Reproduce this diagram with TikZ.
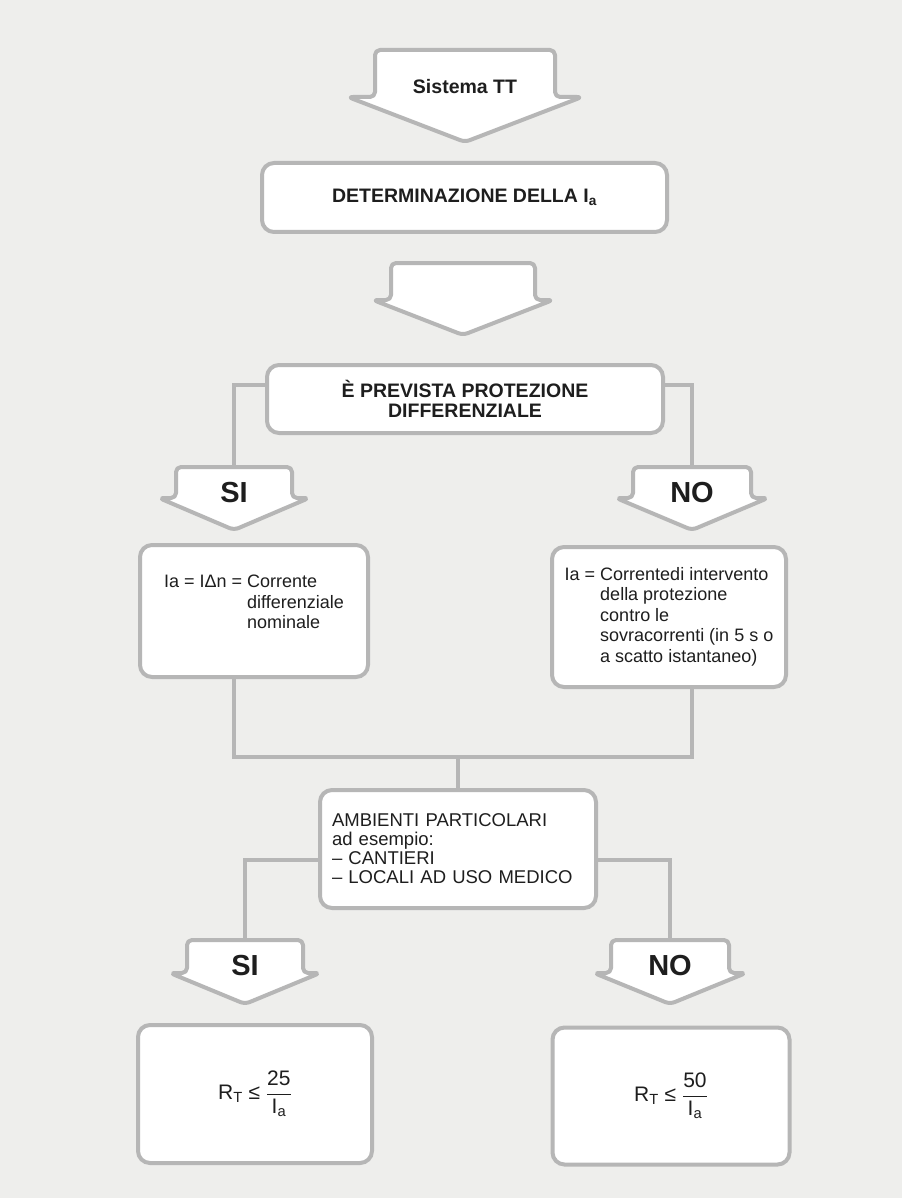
\documentclass[tikz,border=0pt]{standalone}
\usepackage{fontspec}
\setmainfont{Liberation Sans}
\usepackage{amsmath}
\usetikzlibrary{calc}

\definecolor{paper}{RGB}{238,238,236}
\definecolor{frame}{RGB}{182,182,182}
\definecolor{ink}{RGB}{30,30,30}

\pgfdeclarelayer{bg}
\pgfsetlayers{bg,main}

\newcommand{\headsize}{\fontsize{19.5}{22}\selectfont}
\newcommand{\bodysize}{\fontsize{18}{20.5}\selectfont}
\newcommand{\listsize}{\fontsize{18.5}{19}\selectfont}
\newcommand{\resultsize}{\fontsize{21}{24}\selectfont}
\newcommand{\answersize}{\fontsize{29}{30}\selectfont}

% downward block arrow: name, x, top, half width, box height, flange, tip depth, text
\newcommand{\flowarrow}[8]{%
  \draw[arrowline] ({#2-#4-#6},{#3+#5}) -- ({#2-#4},{#3+#5}) -- ({#2-#4},#3)
    -- ({#2+#4},#3) -- ({#2+#4},{#3+#5}) -- ({#2+#4+#6},{#3+#5})
    -- (#2,{#3+#5+#7}) -- cycle;
  \coordinate (#1-top) at (#2,#3);
  \node[arrowtext] (#1) at (#2,{#3+0.4*(#5+#7)}) {#8};
}

\begin{document}
\begin{tikzpicture}[x=1pt, y=-1pt,
    stepbox/.style={draw=frame, line width=4pt, fill=white, rounded corners=12pt,
                    text=ink, inner sep=0pt},
    arrowline/.style={draw=frame, line width=4pt, fill=white, rounded corners=5pt,
                      line join=round},
    arrowtext/.style={text=ink, inner sep=0pt},
    link/.style={draw=frame, line width=4.5pt}]
        \useasboundingbox (0,0) rectangle (902,1198);
        \begin{pgfonlayer}{bg}
            \fill[paper] (0,0) rectangle (902,1198);
        \end{pgfonlayer}

        % Start and first step
        \flowarrow{sys}{465}{50}{90}{47}{27}{45}{\headsize\bfseries Sistema TT}
        \node[stepbox, minimum width=405, minimum height=69, font=\headsize\bfseries]
            (det) at (464.5,197.5) {DETERMINAZIONE DELLA I\textsubscript{a}};
        \flowarrow{gap}{463}{263}{72}{37}{18}{35}{}

        % Question on the residual current device
        \node[stepbox, minimum width=396, minimum height=68, font=\headsize\bfseries,
              align=center] (prev) at (465,399) {È PREVISTA PROTEZIONE\\[-2pt]DIFFERENZIALE};
        \flowarrow{si1}{234}{467}{58}{31}{17}{32}{\answersize\bfseries SI}
        \flowarrow{no1}{692}{467}{59}{31}{17}{32}{\answersize\bfseries NO}

        % Value of Ia for both answers
        \node[stepbox, minimum width=228, minimum height=132, font=\bodysize]
            (corrL) at (254,611) {\begin{tabular}[b]{@{}l@{\ }l@{}}
                Ia = IΔn = & Corrente\\ & differenziale\\ & nominale\\[14pt]\end{tabular}};
        \node[stepbox, minimum width=234, minimum height=140, font=\bodysize]
            (corrR) at (669,617) {\begin{tabular}{@{}l@{\ }l@{}}
                Ia = & Correntedi intervento\\ & della protezione\\ & contro le\\
                & sovracorrenti (in 5 s o\\ & a scatto istantaneo)\end{tabular}};

        % Special locations
        \node[stepbox, minimum width=276, minimum height=118, font=\listsize, align=left,
              text width=252] (amb) at (458,849)
            {AMBIENTI PARTICOLARI\\ad esempio:\\– CANTIERI\\– LOCALI AD USO MEDICO};
        \flowarrow{si2}{245}{940}{58}{33}{17}{31}{\answersize\bfseries SI}
        \flowarrow{no2}{670}{940}{59}{33}{17}{31}{\answersize\bfseries NO}

        % Earth resistance limits
        \node[stepbox, minimum width=234, minimum height=138, font=\resultsize]
            (resL) at (255,1094) {R\textsubscript{T} ≤ $\dfrac{\text{25}}{\text{I\textsubscript{a}}}$};
        \node[stepbox, minimum width=237, minimum height=137, font=\resultsize]
            (resR) at (671,1096) {R\textsubscript{T} ≤ $\dfrac{\text{50}}{\text{I\textsubscript{a}}}$};

        % Connecting lines
        \coordinate (join) at (458,757);
        \begin{pgfonlayer}{bg}
            \draw[link] ($(prev.west)+(0,-14)$) -| (si1-top);
            \draw[link] ($(prev.east)+(0,-14)$) -| (no1-top);
            \draw[link] (corrL.south -| si1-top) |- (join);
            \draw[link] (corrR.south -| no1-top) |- (join);
            \draw[link] (join) -- (amb.north);
            \draw[link] ($(amb.west)+(0,11)$) -| (si2-top);
            \draw[link] ($(amb.east)+(0,11)$) -| (no2-top);
        \end{pgfonlayer}
    \end{tikzpicture}
\end{document}
